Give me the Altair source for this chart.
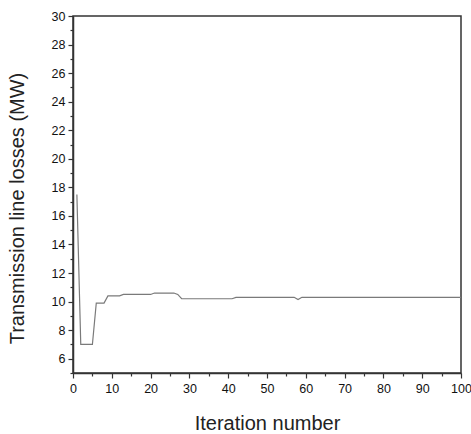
import altair as alt
import pandas as pd

iterations = [1, 2, 3, 4, 5, 6, 7, 8, 9, 10, 11, 12, 13, 14, 15, 16, 17, 18, 19, 20,
              21, 22, 23, 24, 25, 26, 27, 28, 29, 30, 35, 40, 41, 42, 45, 50, 55, 57,
              58, 59, 60, 65, 70, 75, 80, 85, 90, 95, 100]
losses = [17.5, 7.0, 7.0, 7.0, 7.0, 9.9, 9.9, 9.9, 10.4, 10.4, 10.4, 10.4, 10.5, 10.5,
          10.5, 10.5, 10.5, 10.5, 10.5, 10.5, 10.6, 10.6, 10.6, 10.6, 10.6, 10.6, 10.5,
          10.2, 10.2, 10.2, 10.2, 10.2, 10.2, 10.3, 10.3, 10.3, 10.3, 10.3, 10.15, 10.3,
          10.3, 10.3, 10.3, 10.3, 10.3, 10.3, 10.3, 10.3, 10.3]

x_ticks = list(range(0, 101, 5))
y_ticks = list(range(5, 31))

df = pd.DataFrame({"iter": iterations, "loss": losses})

font = "Liberation Sans"

chart = alt.Chart(df).mark_line(color="#7a7a7a", strokeWidth=1.2).encode(
    x=alt.X("iter:Q", scale=alt.Scale(domain=[0, 100], nice=False),
            axis=alt.Axis(values=x_ticks, title="Iteration number",
                          labelExpr="datum.value % 10 == 0 ? datum.label : ''",
                          tickSize={"condition": {"test": "datum.value % 10 == 0", "value": 5}, "value": 3},
                          grid=False, domainColor="#333", tickColor="#333", domainWidth=1.5,
                          tickWidth=1.2, labelFont=font, labelFontSize=12.5, labelColor="#111",
                          labelPadding=4, titleFont=font, titleFontSize=20,
                          titleFontWeight="normal", titleColor="#222", titlePadding=19,
                          labelFlush=False, labelOverlap=False)),
    y=alt.Y("loss:Q", scale=alt.Scale(domain=[5, 30], nice=False, zero=False),
            axis=alt.Axis(values=y_ticks, title="Transmission line losses (MW)",
                          labelExpr="datum.value % 2 == 0 && datum.value > 5 ? datum.label : ''",
                          tickSize={"condition": {"test": "datum.value % 2 == 0", "value": 5}, "value": 3},
                          grid=False, domainColor="#333", tickColor="#333", domainWidth=1.5,
                          tickWidth=1.2, labelFont=font, labelFontSize=12.5, labelColor="#111",
                          labelPadding=3, titleFont=font, titleFontSize=20,
                          titleFontWeight="normal", titleColor="#222", titlePadding=24,
                          titleY=192,
                          labelFlush=False, labelOverlap=False)),
).properties(
    width=388, height=357,
    autosize=alt.AutoSizeParams(type="none"),
    padding={"left": 73, "top": 16, "right": 10, "bottom": 61},
).configure_view(stroke="#333", strokeWidth=1.5)

chart.save("out.html", embed_options={"renderer": "svg", "actions": False})
